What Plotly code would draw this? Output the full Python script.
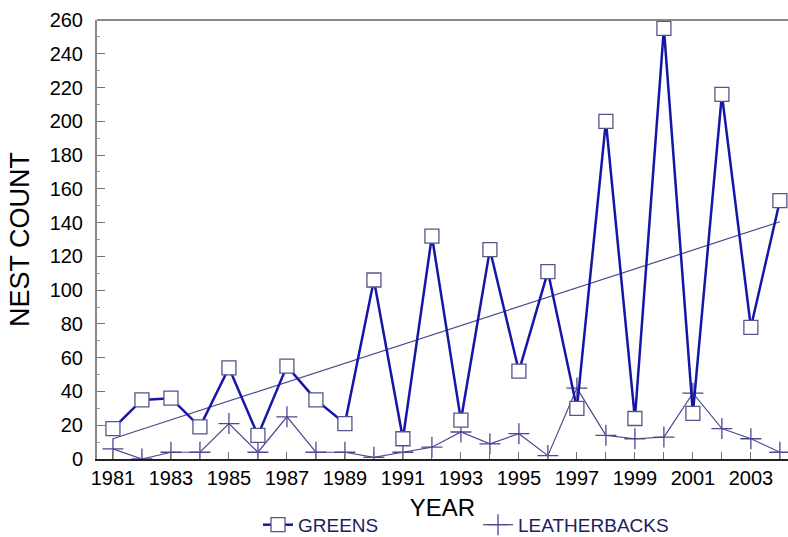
import numpy as np
import plotly.graph_objects as go

years = list(range(1981, 2005))
greens = [18, 35, 36, 19, 54, 14, 55, 35, 21, 106, 12, 132, 23, 124, 52, 111,
          30, 200, 24, 255, 27, 216, 78, 153]
leatherbacks = [6, 0, 4, 4, 21, 4, 25, 4, 4, 1, 4, 7, 16, 9, 15, 2,
                42, 14, 12, 13, 39, 18, 12, 4]

# linear trend of the green nest counts
coef = np.polyfit(years, greens, 1)
trend_x = [years[0], years[-1]]
trend_y = list(np.polyval(coef, trend_x))

FONT = "Liberation Sans, Arial, sans-serif"

fig = go.Figure()
fig.add_trace(go.Scatter(
    x=trend_x, y=trend_y, mode="lines", showlegend=False,
    line=dict(color="#4a4a8e", width=1.2), hoverinfo="skip"))
fig.add_trace(go.Scatter(
    x=years, y=leatherbacks, mode="lines+markers", name="LEATHERBACKS",
    line=dict(color="#4a4a90", width=1.2),
    marker=dict(symbol="cross-thin-open", size=15,
                line=dict(color="#30308a", width=1.3))))
fig.add_trace(go.Scatter(
    x=years, y=greens, mode="lines+markers", name="GREENS",
    line=dict(color="#1515a8", width=2.5),
    marker=dict(symbol="square", size=14, color="white",
                line=dict(color="#55558a", width=1.3))))

fig.update_layout(
    width=788, height=537,
    margin=dict(l=97, r=0, t=20, b=78, autoexpand=False),
    paper_bgcolor="white", plot_bgcolor="white",
    font=dict(family=FONT, size=20, color="black"),
    legend=dict(orientation="h", x=0.233, y=-0.150, xanchor="left",
                yanchor="middle", traceorder="reversed",
                entrywidth=175, entrywidthmode="pixels",
                font=dict(size=19, color="#202060")),
    xaxis=dict(range=[1980.45, 2004.28], tick0=1981, dtick=2,
               ticks="inside", ticklen=7, tickcolor="#707070",
               showgrid=False, zeroline=False,
               showline=True, linecolor="#202020", linewidth=1.5,
               minor=dict(dtick=1, ticks="inside", ticklen=7,
                          tickcolor="#707070"),
               title=dict(text="YEAR", font=dict(size=24), standoff=11),
               tickfont=dict(size=20)),
    yaxis=dict(range=[0, 260], dtick=20, ticks="inside", ticklen=8,
               tickcolor="#707070", showgrid=False, zeroline=False,
               showline=True, linecolor="#888888", linewidth=2,
               minor=dict(dtick=10, ticks="inside", ticklen=3,
                          tickcolor="#999999"),
               ticklabelstandoff=8,
               title=dict(text="NEST COUNT", font=dict(size=27), standoff=12),
               tickfont=dict(size=20)),
)
fig.add_shape(type="line", xref="paper", yref="paper", x0=0, x1=1, y0=1, y1=1,
              line=dict(color="#888888", width=2))

fig.write_html("out.html", config={"displayModeBar": False},
               post_script="document.body.style.margin='0';"
                           "document.body.style.overflow='hidden';")
